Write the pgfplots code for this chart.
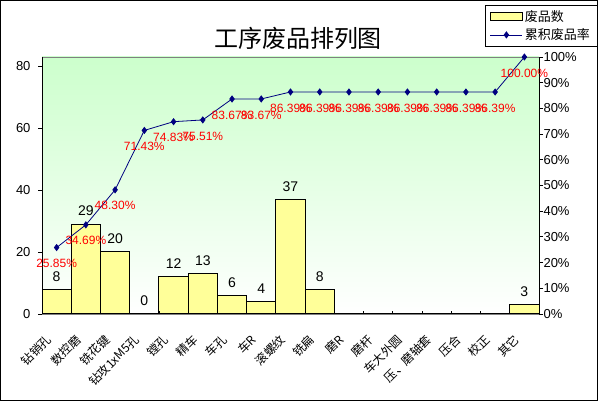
\documentclass[border=0pt]{standalone}
\usepackage{fontspec}
\setmainfont{Liberation Sans}
\newfontfamily\cjk{Noto Sans CJK SC}
\usepackage{pgfplots}
\pgfplotsset{compat=1.18}
\definecolor{baryellow}{RGB}{255,255,153}
\definecolor{bggreen}{RGB}{204,255,204}
\definecolor{navyline}{RGB}{0,0,128}
\pgfplotsset{
  common/.style={at={(42pt,87pt)}, anchor=south west, scale only axis,
    width=497pt, height=257pt, xmin=-0.5, xmax=16.5,
    /pgf/number format/assume math mode=true},
  barlegend/.style={legend image code/.code={\draw[fill=baryellow,draw=black,line width=0.8pt] (0pt,-4pt) rectangle (32pt,4pt);}},
  linelegend/.style={legend image code/.code={\draw[mark repeat=2,mark phase=2,##1] plot coordinates {(0pt,0pt) (16pt,0pt) (32pt,0pt)};}},
}
\begin{document}
\begin{tikzpicture}[x=1pt,y=1pt]
\path[use as bounding box] (0,0) rectangle (598,401);
\draw[line width=1pt] (0.5,0.5) rectangle (597.5,400.5);
\node[font=\cjk\fontsize{24}{28}\selectfont, anchor=center] at (298,363) {工序废品排列图};

% bars, left axis
\begin{axis}[common, ymin=0, ymax=82.9,
  axis x line*=bottom, axis y line*=left, xtick=\empty,
  ytick={0,20,...,80}, tick align=outside, major tick length=4pt,
  tick style={black, line width=0.8pt},
  yticklabel style={font=\fontsize{13}{15}\selectfont, xshift=-4pt},
  axis line style={line width=1pt, black},
  axis background/.style={top color=bggreen, bottom color=white, draw=gray},
  legend style={at={(1.1167,1.2023)}, anchor=north east, draw=black, fill=white,
    font=\cjk\fontsize{13}{15}\selectfont, cells={anchor=west}, row sep=2pt,
    inner xsep=5pt, inner ysep=3pt},
  clip=false]
\addplot[ybar, bar width=1, fill=baryellow, draw=black, line width=1pt, barlegend,
  nodes near coords,
  every node near coord/.style={anchor=center, yshift=13pt, font=\fontsize{14}{16}\selectfont, black}]
  coordinates {(0,8) (1,29) (2,20) (3,0) (4,12) (5,13) (6,6) (7,4) (8,37) (9,8) (16,3)};
\addlegendentry{废品数}
\addlegendimage{navyline, line width=0.8pt, mark=diamond*, mark size=3pt, mark options={fill=navyline}, linelegend}
\addlegendentry{累积废品率}
\end{axis}

% cumulative line, right axis
\begin{axis}[common, ymin=0, ymax=100, axis x line=none, axis y line*=right,
  ytick={0,10,...,100}, yticklabel={\pgfmathprintnumber{\tick}\%},
  tick align=outside, major tick length=4pt, tick style={black, line width=0.8pt},
  yticklabel style={font=\fontsize{13}{15}\selectfont, xshift=-3pt},
  axis line style={line width=1pt, black}, clip=false]
\addplot[navyline, line width=0.8pt, mark=diamond*, mark size=3pt, mark options={fill=navyline},
  point meta=y,
  nodes near coords={\pgfmathprintnumber[fixed,fixed zerofill,precision=2]{\pgfplotspointmeta}\%},
  every node near coord/.style={anchor=center, yshift=-16pt, red, font=\fontsize{12}{14}\selectfont}]
  coordinates {(0,25.85) (1,34.69) (2,48.30) (3,71.43) (4,74.83) (5,75.51) (6,83.67) (7,83.67)
    (8,86.39) (9,86.39) (10,86.39) (11,86.39) (12,86.39) (13,86.39) (14,86.39) (15,86.39) (16,100.00)};
\end{axis}

% category axis
\begin{axis}[common, ymin=0, ymax=1, axis y line=none, axis x line*=bottom,
  axis line style={line width=1pt, black},
  xtick={0,...,16},
  xticklabels={钻销孔,数控磨,铣花键,钻攻1xM5孔,镗孔,精车,车孔,车R,滚螺纹,铣扁,磨R,磨杆,车大外圆,压、磨轴套,压合,校正,其它},
  major tick length=0pt, minor xtick={0.5,1.5,...,15.5}, minor tick length=3pt,
  tick align=inside, tick style={black, line width=0.8pt},
  xticklabel shift=21pt,
  xticklabel style={xshift=-5pt, rotate=45, anchor=east, font=\cjk\fontsize{12}{14}\selectfont}]
\end{axis}
\end{tikzpicture}
\end{document}
